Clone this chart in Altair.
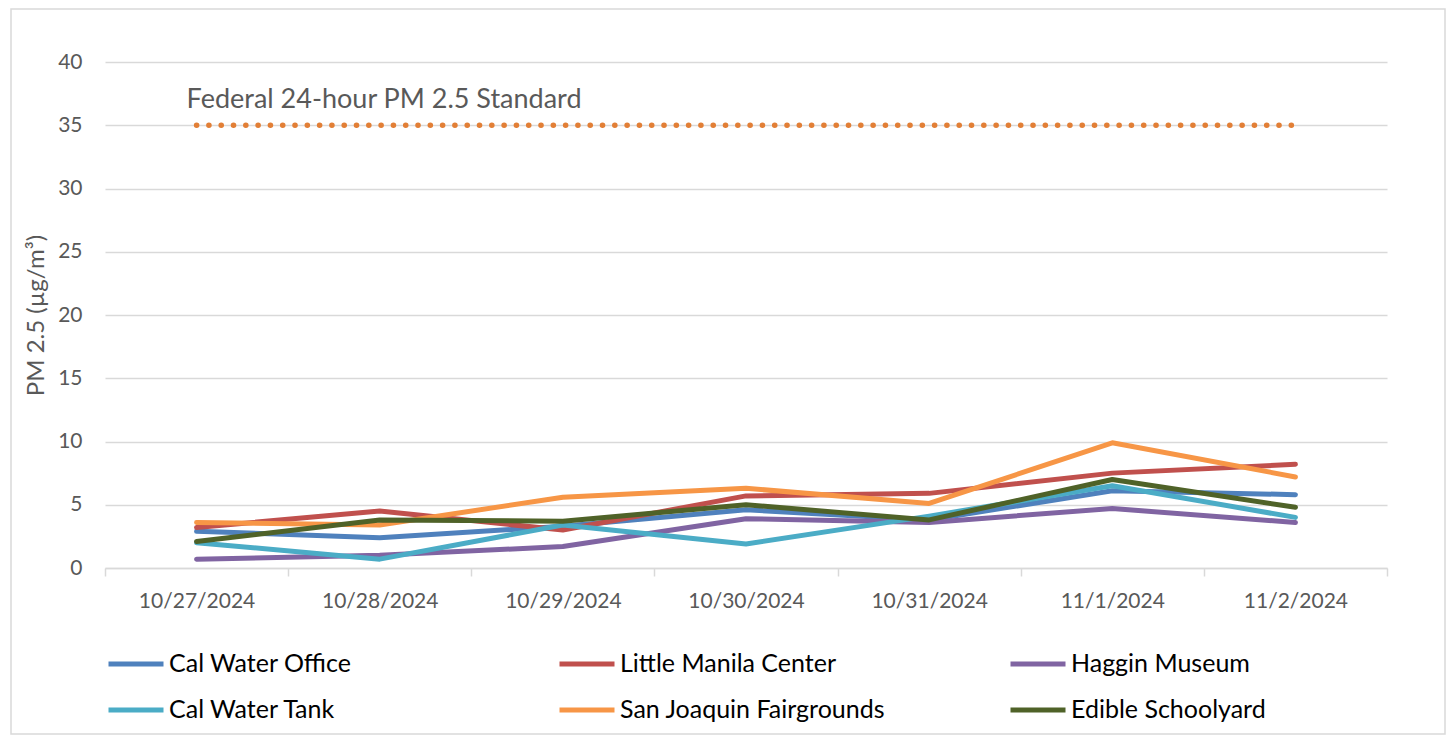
import altair as alt
import pandas as pd

dates = ["10/27/2024", "10/28/2024", "10/29/2024", "10/30/2024",
         "10/31/2024", "11/1/2024", "11/2/2024"]

series_names = ["Cal Water Office", "Little Manila Center", "Haggin Museum",
                "Cal Water Tank", "San Joaquin Fairgrounds", "Edible Schoolyard"]
series_colors = ["#4F81BD", "#C0504D", "#8064A2", "#4BACC6", "#F79646", "#4F6228"]

cal_water_office = [2.9, 2.4, 3.3, 4.6, 3.8, 6.1, 5.8]
little_manila_center = [3.2, 4.5, 3.0, 5.7, 5.9, 7.5, 8.2]
haggin_museum = [0.7, 1.0, 1.7, 3.9, 3.6, 4.7, 3.6]
cal_water_tank = [2.0, 0.7, 3.4, 1.9, 4.1, 6.5, 4.0]
san_joaquin_fairgrounds = [3.6, 3.4, 5.6, 6.3, 5.1, 9.9, 7.2]
edible_schoolyard = [2.1, 3.8, 3.7, 5.0, 3.8, 7.0, 4.8]

standard_label = "Federal 24-hour PM 2.5 Standard"
standard_value = 35

y_ticks = [0, 5, 10, 15, 20, 25, 30, 35, 40]

all_series = [cal_water_office, little_manila_center, haggin_museum,
              cal_water_tank, san_joaquin_fairgrounds, edible_schoolyard]
rows = []
for name, vals in zip(series_names, all_series):
    for d, v in zip(dates, vals):
        rows.append({"date": d, "value": v, "series": name})
df = pd.DataFrame(rows)

std_df = pd.DataFrame({"date": [dates[0], dates[-1]],
                       "value": [standard_value, standard_value]})
lbl_df = pd.DataFrame({"date": [dates[0]], "value": [standard_value],
                       "label": [standard_label]})

W, H = 1282, 506

x_enc = alt.X("date:N", sort=dates, bandPosition=0.5,
              scale=alt.Scale(type="band", paddingInner=0, paddingOuter=0),
              axis=alt.Axis(title=None, labelAngle=0, tickBand="extent", grid=False,
                            domainColor="#D9D9D9", domainWidth=1.5,
                            tickColor="#D9D9D9", tickWidth=1.5, tickSize=8,
                            labelFontSize=21, labelColor="#595959", labelPadding=14))
y_enc = alt.Y("value:Q", scale=alt.Scale(domain=[0, 40], nice=False),
              axis=alt.Axis(title="PM 2.5 (µg/m³)", values=y_ticks, domain=False,
                            ticks=False, gridColor="#D9D9D9", gridWidth=1.3,
                            labelFontSize=21, labelColor="#595959", labelPadding=23,
                            titleFontSize=24, titleColor="#595959",
                            titleFontWeight="normal", titlePadding=9))

frame = alt.Chart(pd.DataFrame({"a": [0]})).mark_rect(
    fill="transparent", stroke="#D9D9D9", strokeWidth=1.5, clip=False
).encode(x=alt.value(-94), x2=alt.value(W + 58), y=alt.value(-53), y2=alt.value(H + 166))

lines = alt.Chart(df).mark_line(strokeWidth=5, strokeCap="round", strokeJoin="round").encode(
    x=x_enc, y=y_enc,
    color=alt.Color("series:N", sort=series_names,
                    scale=alt.Scale(domain=series_names, range=series_colors),
                    legend=alt.Legend(title=None, orient="none", legendX=1, legendY=572,
                                      direction="horizontal", columns=3,
                                      symbolType="stroke", symbolSize=3025,
                                      symbolStrokeWidth=5, labelFontSize=25,
                                      labelColor="black", labelOffset=3,
                                      gridAlign="all", columnPadding=114,
                                      rowPadding=3, padding=0, labelLimit=500)),
)

std_line = alt.Chart(std_df).mark_line(
    color="#E27F36", strokeWidth=5.5, strokeDash=[0.1, 12.2], strokeCap="round"
).encode(x=x_enc, y=y_enc)

std_text = alt.Chart(lbl_df).mark_text(
    align="left", baseline="middle", dx=-10, dy=-25, fontSize=27, color="#595959"
).encode(x=x_enc, y=y_enc, text="label:N")

chart = alt.layer(frame, std_line, lines, std_text).properties(
    width=W, height=H,
    autosize=alt.AutoSizeParams(type="none"),
    padding={"left": 97, "top": 54, "right": 60, "bottom": 168},
).configure(font="Lato").configure_view(stroke=None)

chart.save("out.html", embed_options={"renderer": "svg", "actions": False})
